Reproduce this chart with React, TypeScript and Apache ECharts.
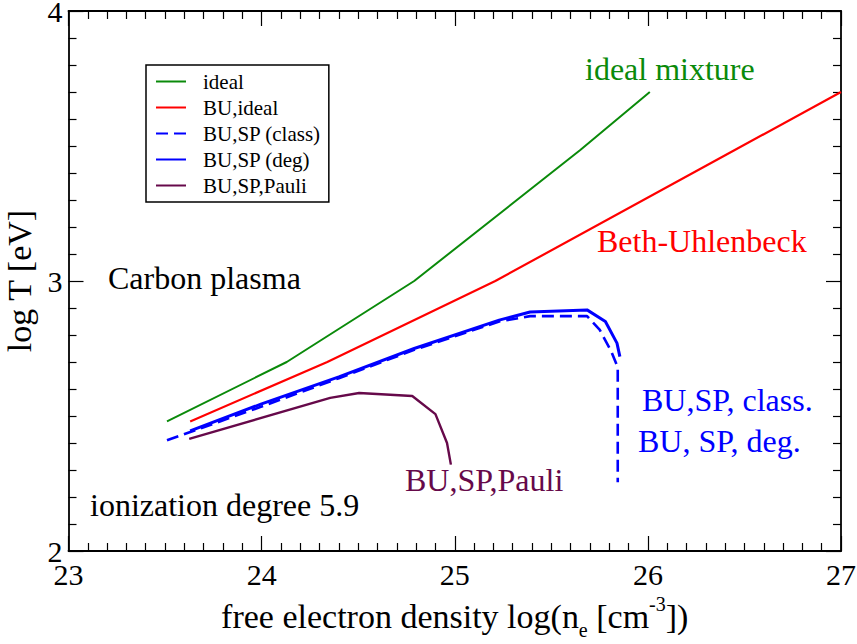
import React, { useEffect, useRef } from "react";
import * as echarts from "echarts";

// ---- data ----
const X_MIN = 23;
const X_MAX = 27;
const Y_MIN = 2;
const Y_MAX = 4;

const seriesNames = ["ideal", "BU,ideal", "BU,SP (class)", "BU,SP (deg)", "BU,SP,Pauli"];

const idealPts: [number, number][] = [
  [23.51, 2.48], [24.13, 2.70], [24.79, 3.0], [25.65, 3.485], [26.01, 3.70],
];
const buIdealPts: [number, number][] = [
  [23.63, 2.48], [24.34, 2.70], [25.21, 3.0], [26.45, 3.485], [27.0, 3.70],
];
const buSpClassPts: [number, number][] = [
  [23.51, 2.41], [24.0, 2.535], [24.4, 2.64], [24.79, 2.745], [25.23, 2.85],
  [25.39, 2.87], [25.685, 2.87], [25.75, 2.82], [25.81, 2.74], [25.844, 2.68], [25.844, 2.255],
];
const buSpDegPts: [number, number][] = [
  [23.63, 2.445], [24.0, 2.545], [24.4, 2.645], [24.79, 2.75], [25.23, 2.855],
  [25.39, 2.885], [25.685, 2.893], [25.78, 2.85], [25.84, 2.77], [25.855, 2.72],
];
const pauliPts: [number, number][] = [
  [23.625, 2.415], [24.355, 2.567], [24.505, 2.585], [24.78, 2.574], [24.90, 2.507],
  [24.96, 2.40], [24.98, 2.32],
];

const FONT = "Liberation Serif";
const GREEN = "#0a8a0a";
const RED = "#ff0000";
const BLUE = "#0000ff";
const PURPLE = "#66094a";

export default function App() {
  const ref = useRef<HTMLDivElement>(null);
  useEffect(() => {
    if (!ref.current) return;
    const chart = echarts.init(ref.current, undefined, { renderer: "svg" });

    const tickCommon = {
      axisLine: { show: true, lineStyle: { color: "#000", width: 1.8 } },
      axisTick: { show: true, inside: true, length: 15, lineStyle: { color: "#000", width: 1.2 } },
      minorTick: { show: true, splitNumber: 10, length: 8, lineStyle: { color: "#000", width: 1.2 } },
      splitLine: { show: false },
      minorSplitLine: { show: false },
    };

    const mkText = (text: string, x: number, y: number, color: string, size = 32) => ({
      type: "text",
      x,
      y,
      style: { text, fill: color, font: `${size}px "${FONT}"`, verticalAlign: "middle" },
      z: 10,
    });

    const option: any = {
      animation: false,
      backgroundColor: "#fff",
      grid: { left: 68.5, right: 16, top: 11, bottom: 93, containLabel: false, outerBoundsMode: "none" },
      xAxis: [
        {
          type: "value", min: X_MIN, max: X_MAX, interval: 1, position: "bottom",
          ...tickCommon,
          axisLabel: { fontFamily: FONT, fontSize: 30, color: "#000", margin: 8 },
          name: "free electron density log(n{sub|e} [cm{sup|-3}])",
          nameLocation: "middle",
          nameGap: 29,
          nameTextStyle: {
            fontFamily: FONT, fontSize: 34, color: "#000", lineHeight: 46, verticalAlign: "middle",
            rich: {
              sub: { fontFamily: FONT, fontSize: 20, color: "#000", lineHeight: 46, verticalAlign: "bottom" },
              sup: { fontFamily: FONT, fontSize: 20, color: "#000", lineHeight: 46, verticalAlign: "top" },
            },
          },
        },
        {
          type: "value", min: X_MIN, max: X_MAX, interval: 1, position: "top",
          ...tickCommon,
          axisLabel: { show: false },
        },
      ],
      yAxis: [
        {
          type: "value", min: Y_MIN, max: Y_MAX, interval: 1, position: "left",
          ...tickCommon,
          axisLabel: { fontFamily: FONT, fontSize: 30, color: "#000", margin: 6 },
          name: "log T [eV]",
          nameLocation: "middle",
          nameGap: 31,
          nameTextStyle: { fontFamily: FONT, fontSize: 34, color: "#000" },
        },
        {
          type: "value", min: Y_MIN, max: Y_MAX, interval: 1, position: "right",
          ...tickCommon,
          axisLabel: { show: false },
        },
      ],
      legend: {
        orient: "vertical",
        left: 146,
        top: 65,
        padding: [6, 8, 6, 9],
        itemGap: 5,
        itemWidth: 30,
        itemHeight: 14,
        backgroundColor: "#fff",
        borderColor: "#000",
        borderWidth: 1.5,
        borderRadius: 0,
        itemStyle: { opacity: 0, borderWidth: 0 },
        textStyle: { fontFamily: FONT, fontSize: 21, color: "#000", padding: [0, 0, 0, 12] },
        data: seriesNames,
      },
      series: [
        { name: seriesNames[0], type: "line", data: idealPts, symbol: "none", lineStyle: { color: GREEN, width: 2 }, itemStyle: { color: GREEN } },
        { name: seriesNames[1], type: "line", data: buIdealPts, symbol: "none", lineStyle: { color: RED, width: 2.2 }, itemStyle: { color: RED } },
        { name: seriesNames[2], type: "line", data: buSpClassPts, symbol: "none", lineStyle: { color: BLUE, width: 2.6, type: [12, 6] }, itemStyle: { color: BLUE } },
        { name: seriesNames[3], type: "line", data: buSpDegPts, symbol: "none", lineStyle: { color: BLUE, width: 3 }, itemStyle: { color: BLUE } },
        { name: seriesNames[4], type: "line", data: pauliPts, symbol: "none", lineStyle: { color: PURPLE, width: 2.4 }, itemStyle: { color: PURPLE } },
      ],
      graphic: [
        mkText("ideal mixture", 585, 69, GREEN),
        mkText("Beth-Uhlenbeck", 597, 241, RED),
        mkText("Carbon plasma", 108, 278, "#000"),
        mkText("BU,SP, class.", 642, 400, BLUE),
        mkText("BU, SP, deg.", 638, 441, BLUE),
        mkText("BU,SP,Pauli", 405, 480, PURPLE),
        mkText("ionization degree 5.9", 90, 505, "#000"),
      ],
    };
    chart.setOption(option);
    return () => chart.dispose();
  }, []);

  return (
    <div
      ref={ref}
      style={{ position: "absolute", left: 0, top: 0, width: 857, height: 644 }}
    />
  );
}
